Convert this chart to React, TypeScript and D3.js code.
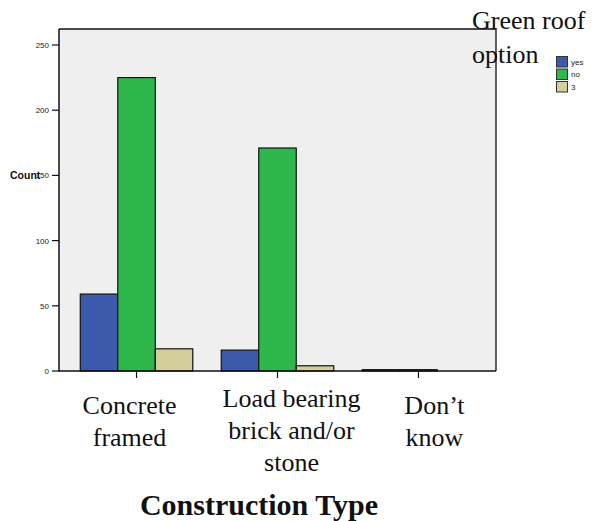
import React from "react";
import * as d3 from "d3";

const categories = ["Concrete framed", "Load bearing brick and/or stone", "Don’t know"];
const categoryLines = [["Concrete", "framed"], ["Load bearing", "brick and/or", "stone"], ["Don’t", "know"]];
const seriesNames = ["yes", "no", "3"];
const yesValues = [59, 16, 1];
const noValues = [225, 171, 1];
const threeValues = [17, 4, 0];
const yTicks = [0, 50, 100, 150, 200, 250];
const colors = ["#3d59ab", "#2eb84b", "#d4cf99"];

export default function App() {
  const W = 597, H = 521;
  const left = 59, right = 496, top = 29, bottom = 371;
  const y = d3.scaleLinear().domain([0, 250]).range([bottom, bottom - 326]);
  const x = d3.scalePoint<string>().domain(categories).range([left, right]).padding(0.55);
  const barW = 37.5;
  const series = [yesValues, noValues, threeValues];
  const labelShift = [-7, 14, 16];
  const serif = "'Liberation Serif', 'Times New Roman', serif";
  const sans = "'Liberation Sans', Arial, sans-serif";

  return (
    <svg width={W} height={H} style={{ position: "absolute", left: 0, top: 0 }}>
      <defs>
        <clipPath id="lblclip">
          <rect x={0} y={0} width={W} height={447} />
        </clipPath>
      </defs>
      <rect x={left} y={top} width={right - left} height={bottom - top} fill="#efefef" />
      {categories.map((c, ci) =>
        series.map((vals, si) => {
          const v = vals[ci];
          if (v <= 0) return null;
          const cx = x(c)!;
          const x0 = cx - (barW * 3) / 2 + si * barW;
          return (
            <rect key={c + si} x={x0} y={y(v)} width={barW} height={bottom - y(v)}
              fill={colors[si]} stroke="#111" strokeWidth={1.2} />
          );
        })
      )}
      <path d={`M${left},${top}H${right}V${bottom}`} fill="none" stroke="#111" strokeWidth={1.3} />
      <line x1={left} x2={left} y1={top} y2={bottom + 0.5} stroke="#111" strokeWidth={1.5} />
      <line x1={left} x2={right} y1={bottom} y2={bottom} stroke="#111" strokeWidth={1.5} />
      {yTicks.map(t => (
        <g key={t}>
          <line x1={left - 7} x2={left} y1={y(t)} y2={y(t)} stroke="#111" strokeWidth={1.2} />
          <text x={left - 10} y={y(t) + 3} fontSize={8} fontFamily={sans} textAnchor="end" fill="#222">{t}</text>
        </g>
      ))}
      <text x={10} y={y(150) + 4} fontSize={10.5} fontWeight="bold" fontFamily={sans} fill="#111">Count</text>
      {categories.map((c, ci) => {
        const cx = x(c)!;
        const lines = categoryLines[ci];
        const baseY = lines.length === 3 ? 407 : 414;
        return (
          <g key={c}>
            <line x1={cx} x2={cx} y1={bottom} y2={bottom + 7} stroke="#111" strokeWidth={1.2} />
            <g clipPath={lines.length === 3 ? undefined : "url(#lblclip)"}>
              {lines.map((l, li) => (
                <text key={li} x={cx + labelShift[ci]} y={baseY + li * 32} fontSize={26} fontFamily={serif}
                  textAnchor="middle" fill="#111">{l}</text>
              ))}
            </g>
          </g>
        );
      })}
      <text x={259} y={515} fontSize={30} fontWeight="bold" fontFamily={serif}
        textAnchor="middle" fill="#111">Construction Type</text>
      <text x={472} y={29} fontSize={26} fontFamily={serif} fill="#111">Green roof</text>
      <text x={472} y={63} fontSize={26} fontFamily={serif} fill="#111">option</text>
      {seriesNames.map((s, i) => (
        <g key={s}>
          <rect x={556.5} y={56.5 + i * 12.5} width={11} height={10.5} fill={colors[i]} stroke="#333" strokeWidth={1} />
          <text x={571} y={64.5 + i * 12.5} fontSize={8} fontFamily={sans} fill="#222">{s}</text>
        </g>
      ))}
    </svg>
  );
}
